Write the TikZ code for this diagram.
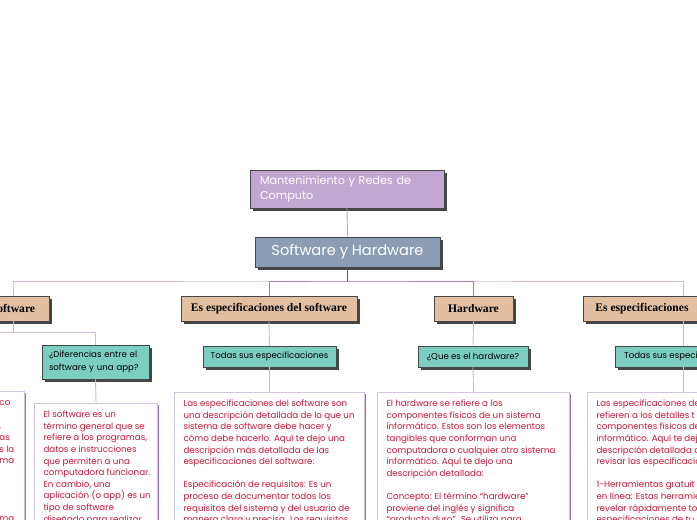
\documentclass[tikz,border=0pt]{standalone}
\usepackage{fontspec}
\setmainfont{Poppins}
\newfontfamily\headserif{Liberation Serif}
\usetikzlibrary{shadows}
\definecolor{mapgray}{HTML}{464646}
\definecolor{topfill}{HTML}{C3A7D3}
\definecolor{rootfill}{HTML}{8B9DB4}
\definecolor{branchfill}{HTML}{E2BFA1}
\definecolor{askfill}{HTML}{7CCEC0}
\definecolor{linklight}{HTML}{CDB6E2}
\definecolor{linkmid}{HTML}{A57DC6}
\definecolor{linkdark}{HTML}{7B3A9E}
\definecolor{noteborder}{HTML}{D3C3E6}
\definecolor{noteshade}{HTML}{9A6CC0}
\definecolor{notetext}{HTML}{CC1438}

\newcommand{\notepar}[2]{\parbox[t][150pt][t]{#1}{\fontsize{8.7}{11.6}\selectfont
  \begin{tabular}[t]{@{}l@{}}#2\end{tabular}}}
\newcommand{\edgecut}[1]{\hspace*{89pt}#1}

\begin{document}
\begin{tikzpicture}[x=1pt, y=-1pt,
  boxshadow/.style={drop shadow={shadow xshift=3pt, shadow yshift=-3pt, fill=mapgray, opacity=1}},
  mapbox/.style={draw=mapgray, line width=0.8pt, inner sep=0pt, boxshadow},
  topbox/.style={mapbox, fill=topfill, text=white, align=left, text width=174pt,
                 inner xsep=10pt, minimum height=38pt, font=\fontsize{11.2}{15}\selectfont},
  rootbox/.style={mapbox, fill=rootfill, text=white, minimum width=185pt, minimum height=30pt,
                  font=\fontsize{14.6}{17}\selectfont},
  branchbox/.style={mapbox, fill=branchfill, minimum height=25pt, font=\headserif\bfseries\fontsize{11.6}{13}\selectfont},
  askbox/.style={mapbox, fill=askfill, minimum height=21pt, font=\fontsize{8.6}{12.5}\selectfont},
  notebox/.style={draw=noteborder, line width=1pt, fill=white, text=notetext, inner xsep=9pt, inner ysep=6pt,
                  drop shadow={shadow xshift=1.6pt, shadow yshift=-1.6pt, fill=noteshade, opacity=1}},
  link/.style={draw=linklight, line width=0.9pt},
]
\useasboundingbox (0,0) rectangle (697,520);
\clip (0,0) rectangle (697,520);
\fill[white] (0,0) rectangle (697,520);

\node[topbox] (course) at (347,189) {Mantenimiento y Redes de\\Computo};
\node[rootbox] (root) at (347.5,252) {Software y Hardware};

\node[branchbox, minimum width=72pt] (sw) at (13,308.5) {Software};
\node[branchbox, minimum width=176pt] (spec) at (269,308.5) {Es especificaciones del software};
\node[branchbox, minimum width=79pt] (hw) at (473.5,308.5) {Hardware};
\node[branchbox, anchor=west, inner xsep=12pt] (hwspec) at (583,308.5) {\makebox[176pt][l]{Es especificaciones}};

\node[askbox, minimum height=34pt, align=left, text width=93pt, inner xsep=7pt] (app) at (95.5,362) {¿Diferencias entre el\\software y una app?};
\node[askbox, minimum width=133pt] (specask) at (269.5,356.5) {Todas sus especificaciones};
\node[askbox, minimum width=110pt] (hwask) at (473,356.5) {¿Que es el hardware?};
\node[askbox, minimum width=136pt] (hwspecask) at (683,356.5) {Todas sus especificaciones};

\node[notebox, anchor=north east] (leftnote) at (25,391) {\notepar{105pt}{%
\edgecut{co}\\ \\ \edgecut{,}\\ \edgecut{as}\\ \edgecut{s la}\\ \edgecut{ma}\\ \\ \\ \\ \\ \edgecut{ma}}};
\node[notebox, anchor=north west] (appnote) at (34,403) {\notepar{105pt}{%
El software es un\\ término general que se\\ refiere a los programas,\\ datos e instrucciones\\ que permiten a una\\ computadora funcionar.\\ En cambio, una\\ aplicación (o app) es un\\ tipo de software\\ diseñado para realizar}};
\node[notebox, anchor=north west] (specnote) at (174,392) {\notepar{172pt}{%
Las especificaciones del software son\\ una descripción detallada de lo que un\\ sistema de software debe hacer y\\ cómo debe hacerlo. Aquí te dejo una\\ descripción más detallada de las\\ especificaciones del software:\\ \\ Especificación de requisitos: Es un\\ proceso de documentar todos los\\ requisitos del sistema y del usuario de\\ manera clara y precisa. Los requisitos}};
\node[notebox, anchor=north west] (hwnote) at (377,392) {\notepar{174pt}{%
El hardware se refiere a los\\ componentes físicos de un sistema\\ informático. Estos son los elementos\\ tangibles que conforman una\\ computadora o cualquier otro sistema\\ informático. Aquí te dejo una\\ descripción detallada:\\ \\ Concepto: El término “hardware”\\ proviene del inglés y significa\\ “producto duro”. Se utiliza para}};
\node[notebox, anchor=north west] (hwspecnote) at (587,392) {\notepar{174pt}{%
Las especificaciones de\\ refieren a los detalles t\\ componentes físicos de\\ informático. Aquí te dej\\ descripción detallada d\\ revisar las especificacio\\ \\ 1-Herramientas gratuit\\ en línea: Estas herramie\\ revelar rápidamente to\\ especificaciones de tu}};

\coordinate (hub) at (347.5,281);
\coordinate (swfork) at (13,332);
\coordinate (offleft) at (-40,332);

\draw[link] (sw.north) |- (hub) -| (hwspec.north |- sw.north);
\draw[link, draw=linkmid] (spec.north) |- (hub) -| (hw.north);
\draw[link, draw=linkdark] (root.south) -- (hub);
\draw[link, draw=topfill] (course.south) -- (root.north);

\draw[link] (sw.south) -- (swfork) -| (app.north);
\draw[link] (swfork) -- (offleft);
\draw[link] (app.south) -- (appnote.north);
\draw[link] (spec.south) -- (specask.north);
\draw[link] (specask.south) -- (specnote.north);
\draw[link] (hw.south) -- (hwask.north);
\draw[link] (hwask.south) -- (hwnote.north);
\draw[link] (hwspec.south -| hwspecask.north) -- (hwspecask.north);
\draw[link] (hwspecask.south) -- (hwspecask.south |- hwspecnote.north);
\end{tikzpicture}
\end{document}
